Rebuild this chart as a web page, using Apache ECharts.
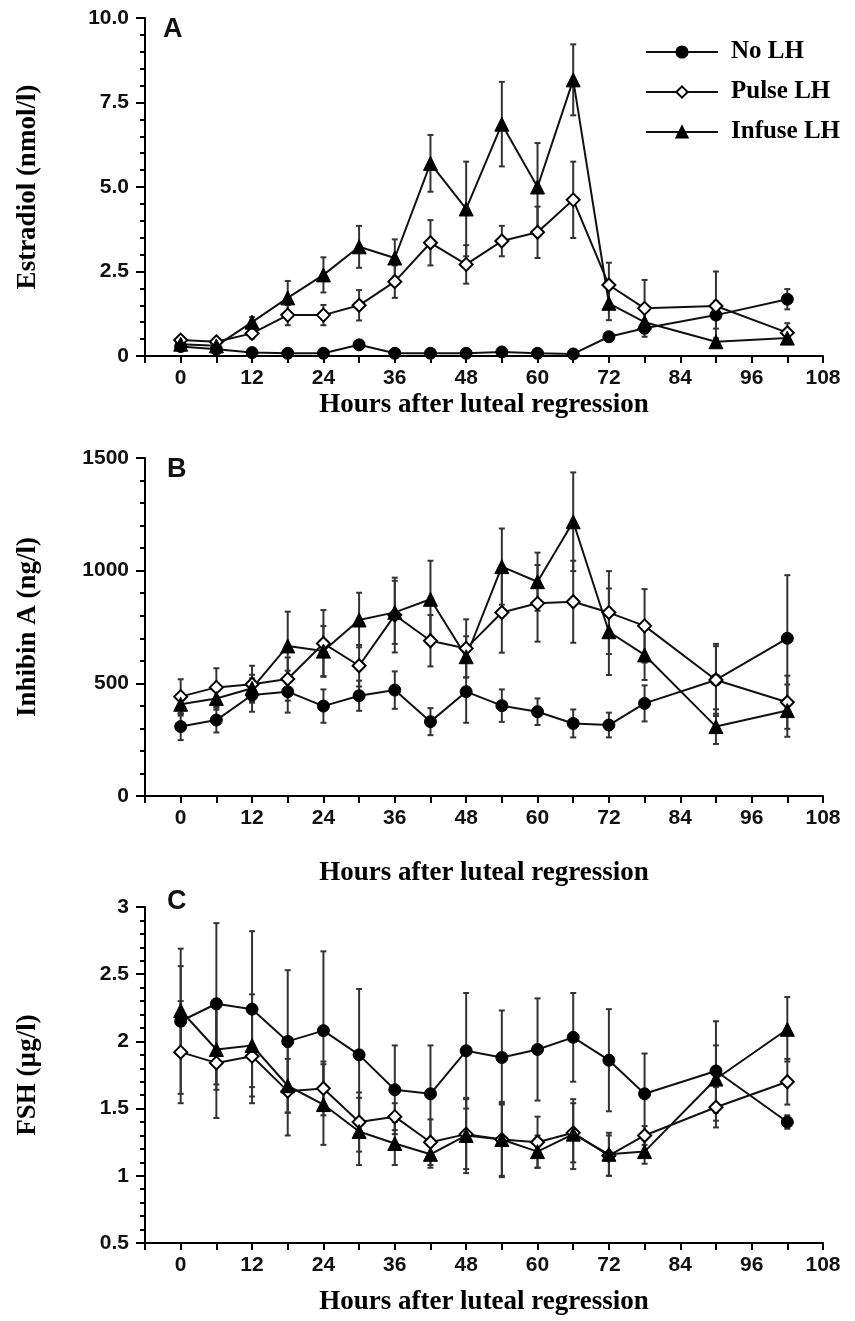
<!DOCTYPE html>
<html>
<head>
<meta charset="utf-8">
<script src="https://cdn.jsdelivr.net/npm/echarts@6/dist/echarts.min.js"></script>
<style>
html,body{margin:0;padding:0;background:#fff;}
#chart{width:855px;height:1321px;}
</style>
</head>
<body>
<div id="chart"></div>
<script>
// ---- Data ----
const hours = [0, 6, 12, 18, 24, 30, 36, 42, 48, 54, 60, 66, 72, 78, 90, 102];
const seriesNames = ['No LH', 'Pulse LH', 'Infuse LH'];
const xTitle = 'Hours after luteal regression';
const yTitles = ['Estradiol (nmol/l)', 'Inhibin A (ng/l)', 'FSH (µg/l)'];
const panelLetters = ['A', 'B', 'C'];

// Panel A: Estradiol (nmol/l)
const noLH_E2        = [0.28, 0.20, 0.10, 0.08, 0.08, 0.33, 0.08, 0.08, 0.08, 0.12, 0.08, 0.06, 0.57, 0.82, 1.21, 1.68];
const noLH_E2_se     = [0.10, 0.08, 0.05, 0.05, 0.05, 0.08, 0.05, 0.05, 0.05, 0.06, 0.05, 0.05, 0.08, 0.12, 0.40, 0.30];
const pulse_E2       = [0.47, 0.42, 0.67, 1.21, 1.21, 1.50, 2.20, 3.35, 2.71, 3.40, 3.66, 4.62, 2.10, 1.41, 1.48, 0.69];
const pulse_E2_se    = [0.10, 0.08, 0.15, 0.30, 0.30, 0.45, 0.48, 0.67, 0.57, 0.45, 0.76, 1.13, 0.66, 0.84, 1.02, 0.28];
const infuse_E2      = [0.35, 0.30, 1.00, 1.72, 2.40, 3.23, 2.90, 5.70, 4.35, 6.86, 5.00, 8.17, 1.56, 1.00, 0.42, 0.53];
const infuse_E2_se   = [0.10, 0.10, 0.15, 0.50, 0.52, 0.62, 0.55, 0.84, 1.40, 1.25, 1.30, 1.05, 0.50, 0.30, 0.10, 0.10];

// Panel B: Inhibin A (ng/l)
const noLH_Inh       = [308, 337, 448, 463, 399, 445, 470, 330, 463, 401, 374, 322, 315, 411, 515, 700];
const noLH_Inh_se    = [60, 55, 74, 93, 74, 67, 83, 60, 138, 72, 59, 62, 55, 80, 160, 280];
const pulse_Inh      = [441, 482, 496, 519, 677, 578, 803, 689, 655, 814, 855, 862, 814, 755, 515, 416];
const pulse_Inh_se   = [77, 85, 82, 96, 148, 92, 166, 114, 129, 178, 170, 182, 184, 163, 150, 118];
const infuse_Inh     = [407, 433, 478, 666, 643, 781, 815, 873, 618, 1018, 951, 1217, 729, 626, 308, 379];
const infuse_Inh_se  = [50, 50, 60, 152, 111, 121, 140, 171, 91, 169, 129, 219, 192, 111, 77, 116];

// Panel C: FSH (µg/l)
const noLH_FSH       = [2.15, 2.28, 2.24, 2.00, 2.08, 1.90, 1.64, 1.61, 1.93, 1.88, 1.94, 2.03, 1.86, 1.61, 1.78, 1.40];
const noLH_FSH_se    = [0.54, 0.60, 0.58, 0.53, 0.59, 0.49, 0.33, 0.36, 0.43, 0.35, 0.38, 0.33, 0.38, 0.30, 0.37, 0.05];
const pulse_FSH      = [1.92, 1.84, 1.89, 1.63, 1.65, 1.40, 1.44, 1.25, 1.31, 1.27, 1.25, 1.32, 1.15, 1.30, 1.51, 1.70];
const pulse_FSH_se   = [0.38, 0.41, 0.35, 0.33, 0.20, 0.22, 0.10, 0.17, 0.26, 0.27, 0.19, 0.22, 0.15, 0.07, 0.15, 0.17];
const infuse_FSH     = [2.23, 1.94, 1.97, 1.67, 1.53, 1.33, 1.24, 1.16, 1.30, 1.27, 1.18, 1.31, 1.16, 1.18, 1.72, 2.09];
const infuse_FSH_se  = [0.33, 0.30, 0.38, 0.20, 0.30, 0.25, 0.16, 0.10, 0.28, 0.28, 0.12, 0.26, 0.16, 0.09, 0.25, 0.24];

// ---- Layout / styles ----
const gridTops = [18, 458, 907];
const gridHeights = [338, 338, 336];
const yAxisCfg = [
  {min: 0, max: 10, interval: 2.5, fmt: v => v === 0 ? '0' : v.toFixed(1)},
  {min: 0, max: 1500, interval: 500, fmt: v => String(v)},
  {min: 0.5, max: 3, interval: 0.5, fmt: v => String(v)}
];
const xNameGaps = [36, 64, 46];
const letterTops = [16, 456, 888];

const panels = [
  [[noLH_E2, noLH_E2_se], [pulse_E2, pulse_E2_se], [infuse_E2, infuse_E2_se]],
  [[noLH_Inh, noLH_Inh_se], [pulse_Inh, pulse_Inh_se], [infuse_Inh, infuse_Inh_se]],
  [[noLH_FSH, noLH_FSH_se], [pulse_FSH, pulse_FSH_se], [infuse_FSH, infuse_FSH_se]]
];

const symbolStyles = [
  {symbol: 'circle', symbolSize: 12, itemStyle: {color: '#000', borderColor: '#000', borderWidth: 1}},
  {symbol: 'diamond', symbolSize: 13, itemStyle: {color: '#fff', borderColor: '#000', borderWidth: 2}},
  {symbol: 'triangle', symbolSize: 14, itemStyle: {color: '#000', borderColor: '#000', borderWidth: 1}}
];

const tickFont = 'Liberation Sans, Arial, sans-serif';
const titleFont = 'Liberation Serif, Times New Roman, serif';

const grids = [], xAxes = [], yAxes = [], series = [];

function makeErrRender(minVal) {
  return function (params, api) {
    const x = api.value(0), y = api.value(1), e = api.value(2);
    const top = api.coord([x, y + e]);
    const bot = api.coord([x, Math.max(minVal, y - e)]);
    const w = 3;
    const st = {stroke: '#333', lineWidth: 2};
    return {
      type: 'group',
      children: [
        {type: 'line', shape: {x1: top[0], y1: top[1], x2: bot[0], y2: bot[1]}, style: st},
        {type: 'line', shape: {x1: top[0] - w, y1: top[1], x2: top[0] + w, y2: top[1]}, style: st},
        {type: 'line', shape: {x1: bot[0] - w, y1: bot[1], x2: bot[0] + w, y2: bot[1]}, style: st}
      ]
    };
  };
}

for (let p = 0; p < 3; p++) {
  grids.push({left: 145, right: 32, top: gridTops[p], height: gridHeights[p]});
  xAxes.push({
    type: 'value', gridIndex: p, min: -6, max: 108, interval: 6,
    name: xTitle, nameLocation: 'middle', nameGap: xNameGaps[p],
    nameTextStyle: {fontFamily: titleFont, fontWeight: 'bold', fontSize: 27, color: '#000'},
    axisLine: {show: true, onZero: false, lineStyle: {color: '#000', width: 2}},
    axisTick: {show: true, length: 7, lineStyle: {color: '#000', width: 2}},
    axisLabel: {
      margin: 12, fontFamily: tickFont, fontWeight: 'bold', fontSize: 21, color: '#111',
      formatter: v => (v >= 0 && v % 12 === 0) ? String(v) : ''
    },
    splitLine: {show: false}
  });
  const yc = yAxisCfg[p];
  yAxes.push({
    type: 'value', gridIndex: p, min: yc.min, max: yc.max, interval: yc.interval,
    name: yTitles[p], nameLocation: 'middle', nameGap: 103, nameRotate: 90,
    nameTextStyle: {fontFamily: titleFont, fontWeight: 'bold', fontSize: 27, color: '#000'},
    axisLine: {show: true, onZero: false, lineStyle: {color: '#000', width: 2}},
    axisTick: {show: true, length: 9, lineStyle: {color: '#000', width: 2}},
    minorTick: {show: true, splitNumber: 5, length: 5, lineStyle: {color: '#000', width: 2}},
    axisLabel: {margin: 16, fontFamily: tickFont, fontWeight: 'bold', fontSize: 21, color: '#111', formatter: yc.fmt},
    splitLine: {show: false}
  });
  for (let s = 0; s < 3; s++) {
    const vals = panels[p][s][0], se = panels[p][s][1];
    series.push({
      type: 'custom', name: 'err', xAxisIndex: p, yAxisIndex: p, z: 2,
      renderItem: makeErrRender(yc.min),
      encode: {x: 0, y: 1},
      data: hours.map((h, i) => [h, vals[i], se[i]]),
      silent: true
    });
  }
  for (let s = 0; s < 3; s++) {
    const vals = panels[p][s][0];
    series.push(Object.assign({
      type: 'line', name: seriesNames[s], xAxisIndex: p, yAxisIndex: p, z: 3,
      showSymbol: true,
      lineStyle: {color: '#111', width: 2},
      data: hours.map((h, i) => [h, vals[i]])
    }, symbolStyles[s]));
  }
}

const chart = echarts.init(document.getElementById('chart'), null, {renderer: 'canvas'});
chart.setOption({
  animation: false,
  backgroundColor: '#fff',
  grid: grids,
  xAxis: xAxes,
  yAxis: yAxes,
  legend: {
    data: seriesNames,
    orient: 'vertical',
    left: 640, top: 34,
    itemWidth: 72, itemHeight: 14, itemGap: 14,
    textStyle: {fontFamily: titleFont, fontWeight: 'bold', fontSize: 25, lineHeight: 26, color: '#000', padding: [0, 0, 0, 8]}
  },
  graphic: panelLetters.map((t, i) => ({
    type: 'text', left: i === 0 ? 163 : 167, top: letterTops[i],
    style: {text: t, font: 'bold 27px Liberation Sans, Arial, sans-serif', fill: '#111'}
  })),
  series: series
});
</script>
</body>
</html>
